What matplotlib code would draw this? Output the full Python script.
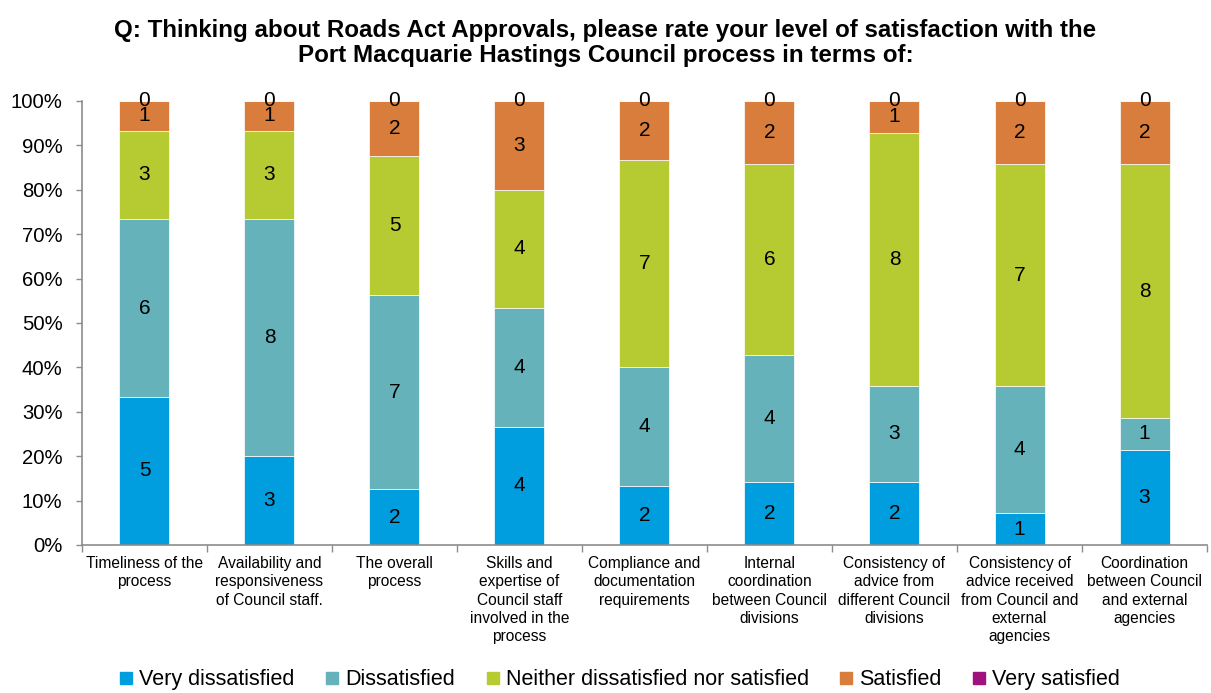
import numpy as np
import matplotlib.pyplot as plt
from matplotlib.lines import Line2D

plt.rcParams['font.family'] = ['Liberation Sans', 'DejaVu Sans']

categories = [
    'Timeliness of the\nprocess',
    'Availability and\nresponsiveness\nof Council staff.',
    'The overall\nprocess',
    'Skills and\nexpertise of\nCouncil staff\ninvolved in the\nprocess',
    'Compliance and\ndocumentation\nrequirements',
    'Internal\ncoordination\nbetween Council\ndivisions',
    'Consistency of\nadvice from\ndifferent Council\ndivisions',
    'Consistency of\nadvice received\nfrom Council and\nexternal\nagencies',
    'Coordination\nbetween Council\nand external\nagencies',
]

# response counts per category
very_dissatisfied = [5, 3, 2, 4, 2, 2, 2, 1, 3]
dissatisfied = [6, 8, 7, 4, 4, 4, 3, 4, 1]
neither = [3, 3, 5, 4, 7, 6, 8, 7, 8]
satisfied = [1, 1, 2, 3, 2, 2, 1, 2, 2]
very_satisfied = [0, 0, 0, 0, 0, 0, 0, 0, 0]

series_names = ['Very dissatisfied', 'Dissatisfied',
                'Neither dissatisfied nor satisfied', 'Satisfied', 'Very satisfied']
colors = ['#009EDE', '#65B2BB', '#B6CA31', '#D87D3B', '#A0137F']

counts = np.array([very_dissatisfied, dissatisfied, neither, satisfied, very_satisfied], dtype=float)
totals = counts.sum(axis=0)
shares = counts / totals

fig = plt.figure(figsize=(12.11, 6.93), dpi=100)
ax = fig.add_axes([0.0677, 0.2136, 0.929, 0.6407])

x = np.arange(len(categories))
bottom = np.zeros(len(categories))
for name, color, share, cnt in zip(series_names, colors, shares, counts):
    ax.bar(x, share, 0.4, bottom=bottom, color=color, edgecolor='white',
           linewidth=0.5, label=name)
    for xi, b, s, c in zip(x, bottom, share, cnt):
        ax.text(xi, b + s / 2, f'{int(c)}', ha='center', va='center',
                fontsize=15, color='black')
    bottom += share

ax.set_xlim(-0.5, len(categories) - 0.5)
ax.set_ylim(0, 1)
ax.set_yticks(np.linspace(0, 1, 11))
ax.set_yticklabels([f'{int(v)}%' for v in np.linspace(0, 100, 11)], fontsize=14.6)

ax.set_xticks(x)
ax.set_xticklabels(categories, fontsize=11.2, linespacing=1.27)
ax.set_xticks(np.arange(-0.5, len(categories)), minor=True)
ax.tick_params(axis='x', which='major', length=0, pad=8)
ax.tick_params(axis='x', which='minor', length=5, color='#8C8C8C', width=1)
ax.tick_params(axis='y', length=4, color='#8C8C8C', width=1, pad=10)

for side in ['top', 'right']:
    ax.spines[side].set_visible(False)
for side in ['left', 'bottom']:
    ax.spines[side].set_color('#8C8C8C')
    ax.spines[side].set_linewidth(1.2)

fig.suptitle('Q: Thinking about Roads Act Approvals, please rate your level of satisfaction with the\n'
             'Port Macquarie Hastings Council process in terms of:',
             fontsize=17.4, fontweight='bold', y=0.973, linespacing=1.12)

handles = [Line2D([0], [0], marker='s', linestyle='none', markersize=8,
                  markerfacecolor=c, markeredgecolor=c) for c in colors]
fig.legend(handles, series_names, loc='lower center', bbox_to_anchor=(0.512, -0.024),
           ncol=5, frameon=False, fontsize=15.5, handlelength=0.6, handletextpad=0.3,
           columnspacing=1.45)

fig.savefig('out.png', dpi=100)
